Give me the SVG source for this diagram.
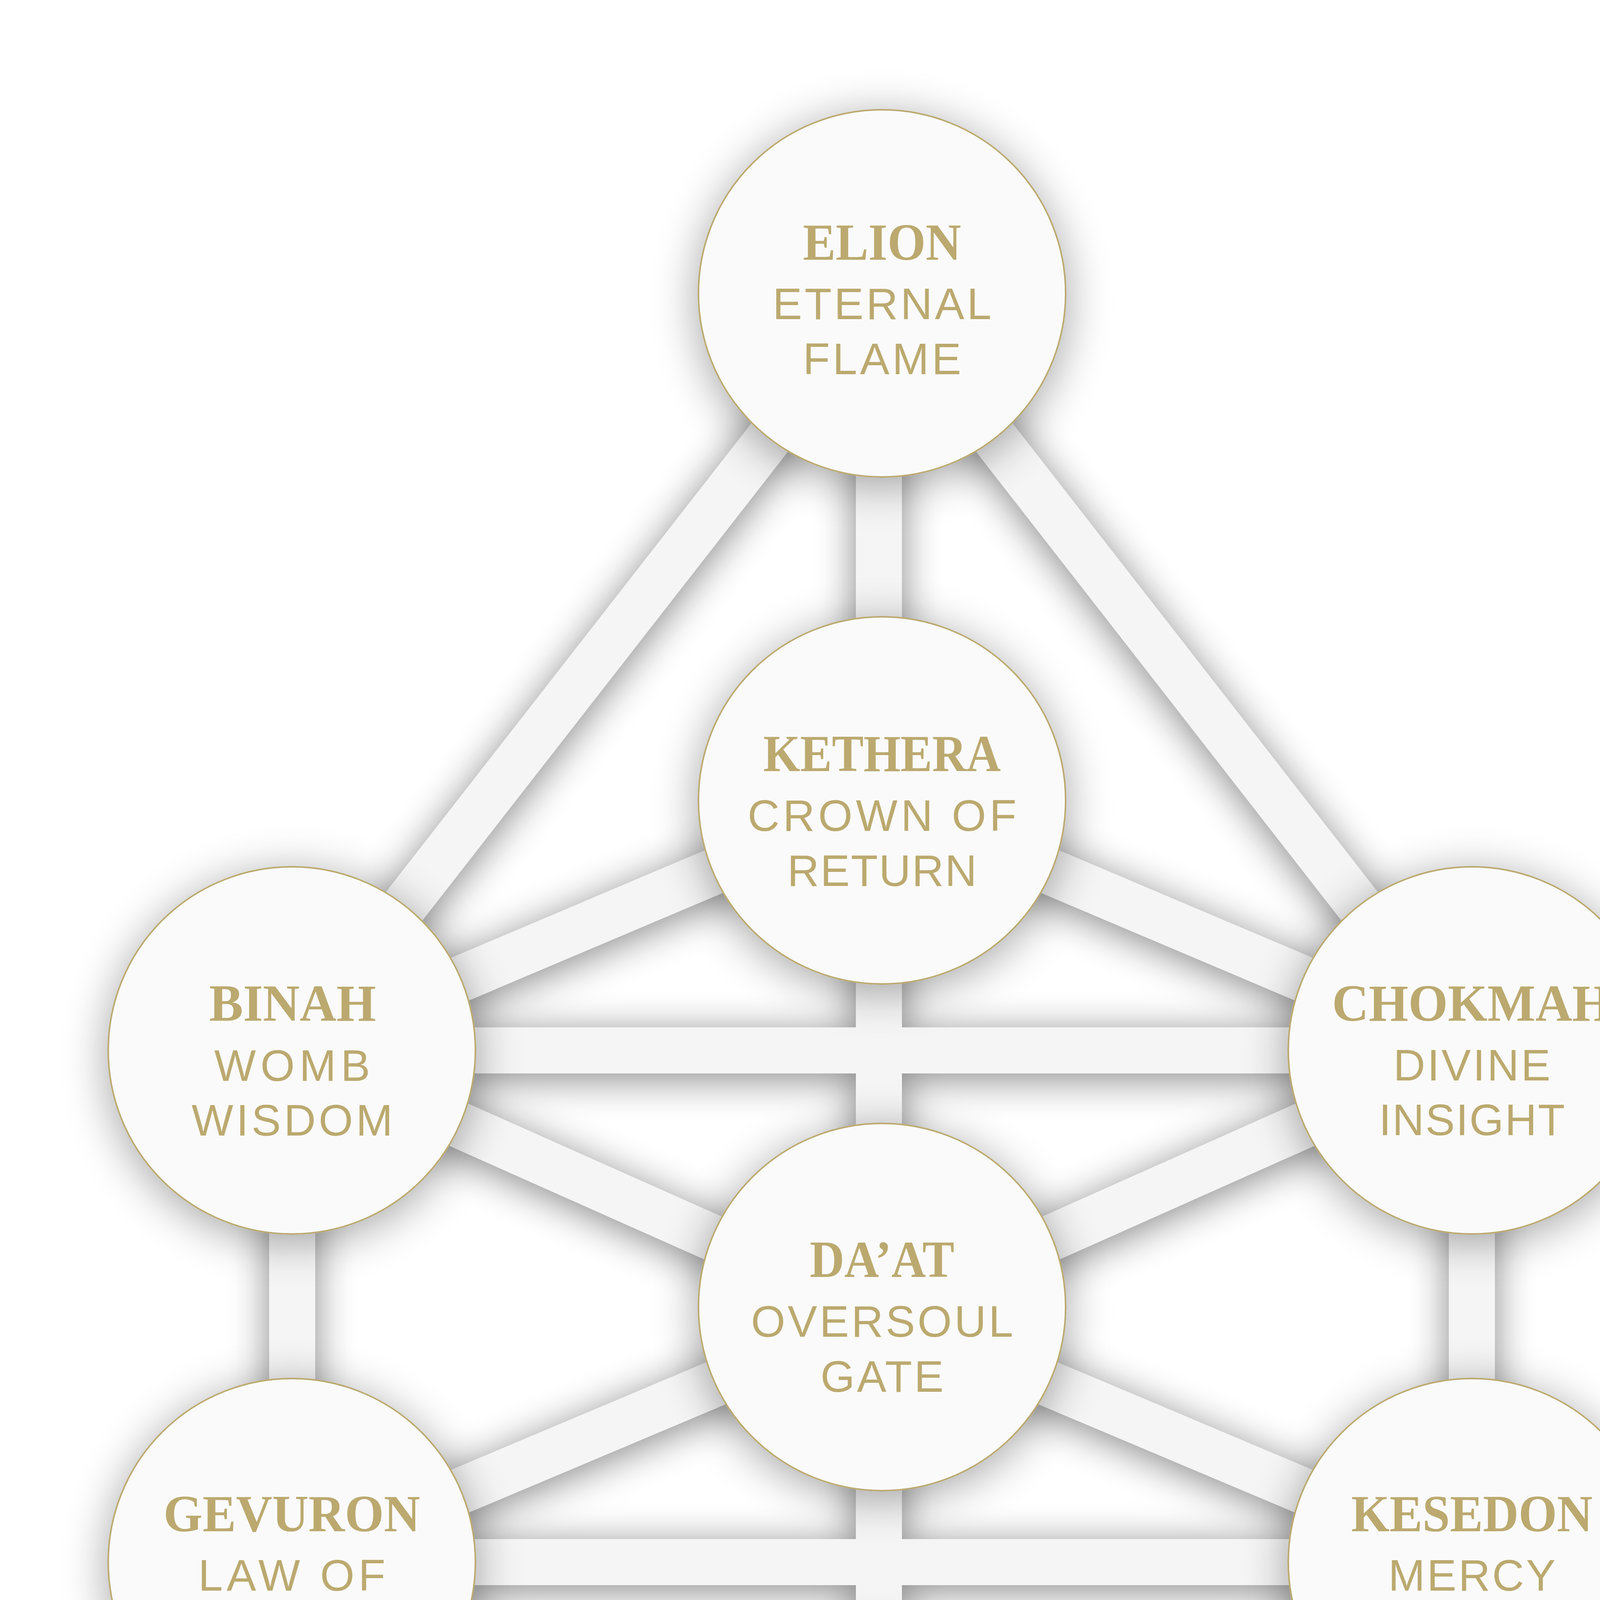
<svg xmlns="http://www.w3.org/2000/svg" width="4500" height="8000" viewBox="0 0 4500 8000">
<defs>
<filter id="barShadow" filterUnits="userSpaceOnUse" x="0" y="0" width="4500" height="8000">
<feGaussianBlur in="SourceAlpha" stdDeviation="50"/>
<feOffset dy="14" result="b"/>
<feComponentTransfer in="b" result="s"><feFuncA type="linear" slope="0.48"/></feComponentTransfer>
<feMerge><feMergeNode in="s"/><feMergeNode in="SourceGraphic"/></feMerge>
</filter>
<filter id="nodeShadow" x="-40%" y="-40%" width="180%" height="180%">
<feGaussianBlur in="SourceAlpha" stdDeviation="58"/>
<feOffset dy="18" result="b"/>
<feComponentTransfer in="b" result="s"><feFuncA type="linear" slope="0.36"/></feComponentTransfer>
<feMerge><feMergeNode in="s"/><feMergeNode in="SourceGraphic"/></feMerge>
</filter>
</defs>
<style>
.bar{stroke:#f5f5f5;stroke-width:118;stroke-linecap:butt;fill:none}
.disc{fill:#fafafa;stroke:#bba96f;stroke-width:4}
.t{font-family:"Liberation Serif","Times New Roman",serif;font-weight:bold;font-size:134px;fill:#bba96f;text-anchor:middle}
.s{font-family:"Liberation Sans",Arial,sans-serif;font-size:113px;fill:#bba96f;text-anchor:middle}
</style>
<rect x="0" y="0" width="4500" height="8000" fill="#ffffff"/>
<g id="connectors" filter="url(#barShadow)">
<line class="bar" x1="2250" y1="751" x2="2250" y2="7240"/>
<line class="bar" x1="748" y1="2689" x2="748" y2="5306"/>
<line class="bar" x1="3768" y1="2689" x2="3768" y2="5306"/>
<line class="bar" x1="747" y1="2689" x2="3768" y2="2689"/>
<line class="bar" x1="747" y1="3999" x2="3768" y2="3999"/>
<line class="bar" x1="747" y1="5306" x2="3768" y2="5306"/>
<line class="bar" x1="2258" y1="751" x2="747" y2="2689"/>
<line class="bar" x1="2258" y1="751" x2="3768" y2="2689"/>
<line class="bar" x1="2258" y1="2049" x2="747" y2="2689"/>
<line class="bar" x1="2258" y1="2049" x2="3768" y2="2689"/>
<line class="bar" x1="2258" y1="3362" x2="747" y2="2689"/>
<line class="bar" x1="2258" y1="3362" x2="3768" y2="2689"/>
<line class="bar" x1="2258" y1="3362" x2="747" y2="3999"/>
<line class="bar" x1="2258" y1="3362" x2="3768" y2="3999"/>
<line class="bar" x1="2258" y1="4661" x2="747" y2="3999"/>
<line class="bar" x1="2258" y1="4661" x2="3768" y2="3999"/>
<line class="bar" x1="2258" y1="4661" x2="747" y2="5306"/>
<line class="bar" x1="2258" y1="4661" x2="3768" y2="5306"/>
<line class="bar" x1="2258" y1="5941" x2="747" y2="5306"/>
<line class="bar" x1="2258" y1="5941" x2="3768" y2="5306"/>
<line class="bar" x1="2258" y1="7240" x2="747" y2="5306"/>
<line class="bar" x1="2258" y1="7240" x2="3768" y2="5306"/>
</g>
<g id="node-elion">
<circle class="disc" cx="2258" cy="751" r="470" filter="url(#nodeShadow)"/>
<text class="t" x="2258" y="665" textLength="405" lengthAdjust="spacingAndGlyphs">ELION</text>
<text class="s" x="2258" y="817" textLength="560" lengthAdjust="spacing">ETERNAL</text>
<text class="s" x="2258" y="958" textLength="405" lengthAdjust="spacing">FLAME</text>
</g>
<g id="node-kethera">
<circle class="disc" cx="2258" cy="2049" r="470" filter="url(#nodeShadow)"/>
<text class="t" x="2258" y="1974" textLength="608" lengthAdjust="spacingAndGlyphs">KETHERA</text>
<text class="s" x="2258" y="2127" textLength="688" lengthAdjust="spacing">CROWN OF</text>
<text class="s" x="2258" y="2268" textLength="485" lengthAdjust="spacing">RETURN</text>
</g>
<g id="node-binah">
<circle class="disc" cx="747" cy="2689" r="470" filter="url(#nodeShadow)"/>
<text class="t" x="749" y="2613" textLength="427" lengthAdjust="spacingAndGlyphs">BINAH</text>
<text class="s" x="748" y="2767" textLength="399" lengthAdjust="spacing">WOMB</text>
<text class="s" x="748" y="2907" textLength="515" lengthAdjust="spacing">WISDOM</text>
</g>
<g id="node-chokmah">
<circle class="disc" cx="3768" cy="2689" r="470" filter="url(#nodeShadow)"/>
<text class="t" x="3768" y="2613" textLength="716" lengthAdjust="spacingAndGlyphs">CHOKMAH</text>
<text class="s" x="3768" y="2766" textLength="402" lengthAdjust="spacing">DIVINE</text>
<text class="s" x="3768" y="2906" textLength="476" lengthAdjust="spacing">INSIGHT</text>
</g>
<g id="node-daat">
<circle class="disc" cx="2258" cy="3346" r="470" filter="url(#nodeShadow)"/>
<text class="t" x="2258" y="3269" textLength="370" lengthAdjust="spacingAndGlyphs">DA’AT</text>
<text class="s" x="2258" y="3422" textLength="671" lengthAdjust="spacing">OVERSOUL</text>
<text class="s" x="2258" y="3563" textLength="315" lengthAdjust="spacing">GATE</text>
</g>
<g id="node-gevuron">
<circle class="disc" cx="747" cy="3999" r="470" filter="url(#nodeShadow)"/>
<text class="t" x="747" y="3920" textLength="657" lengthAdjust="spacingAndGlyphs">GEVURON</text>
<text class="s" x="747" y="4072" textLength="479" lengthAdjust="spacing">LAW OF</text>
<text class="s" x="747" y="4213" textLength="405" lengthAdjust="spacing">FLAME</text>
</g>
<g id="node-kesedon">
<circle class="disc" cx="3768" cy="3999" r="470" filter="url(#nodeShadow)"/>
<text class="t" x="3768" y="3920" textLength="618" lengthAdjust="spacingAndGlyphs">KESEDON</text>
<text class="s" x="3768" y="4072" textLength="428" lengthAdjust="spacing">MERCY</text>
<text class="s" x="3768" y="4213" textLength="361" lengthAdjust="spacing">FLOW</text>
</g>
<g id="node-tiferet">
<circle class="disc" cx="2258" cy="4644" r="470" filter="url(#nodeShadow)"/>
<text class="t" x="2258" y="4581" textLength="528" lengthAdjust="spacingAndGlyphs">TIFERET</text>
<text class="s" x="2258" y="4734" textLength="549" lengthAdjust="spacing">RADIANT</text>
<text class="s" x="2258" y="4875" textLength="405" lengthAdjust="spacing">HEART</text>
</g>
<g id="node-hadarin">
<circle class="disc" cx="747" cy="5306" r="470" filter="url(#nodeShadow)"/>
<text class="t" x="747" y="5238" textLength="626" lengthAdjust="spacingAndGlyphs">HADARIN</text>
<text class="s" x="747" y="5391" textLength="584" lengthAdjust="spacing">VOICE OF</text>
<text class="s" x="747" y="5532" textLength="396" lengthAdjust="spacing">TRUTH</text>
</g>
<g id="node-netzariel">
<circle class="disc" cx="3768" cy="5306" r="470" filter="url(#nodeShadow)"/>
<text class="t" x="3768" y="5238" textLength="714" lengthAdjust="spacingAndGlyphs">NETZARIEL</text>
<text class="s" x="3768" y="5391" textLength="617" lengthAdjust="spacing">FLAME OF</text>
<text class="s" x="3768" y="5532" textLength="629" lengthAdjust="spacing">DEVOTION</text>
</g>
<g id="node-yesod">
<circle class="disc" cx="2258" cy="5941" r="470" filter="url(#nodeShadow)"/>
<text class="t" x="2258" y="5864" textLength="437" lengthAdjust="spacingAndGlyphs">YESOD</text>
<text class="s" x="2258" y="6017" textLength="427" lengthAdjust="spacing">DREAM</text>
<text class="s" x="2258" y="6158" textLength="315" lengthAdjust="spacing">GATE</text>
</g>
<g id="node-malkuth">
<circle class="disc" cx="2258" cy="7240" r="470" filter="url(#nodeShadow)"/>
<text class="t" x="2258" y="7162" textLength="655" lengthAdjust="spacingAndGlyphs">MALKUTH</text>
<text class="s" x="2258" y="7315" textLength="315" lengthAdjust="spacing">HOLY</text>
<text class="s" x="2258" y="7456" textLength="535" lengthAdjust="spacing">GROUND</text>
</g>
</svg>
